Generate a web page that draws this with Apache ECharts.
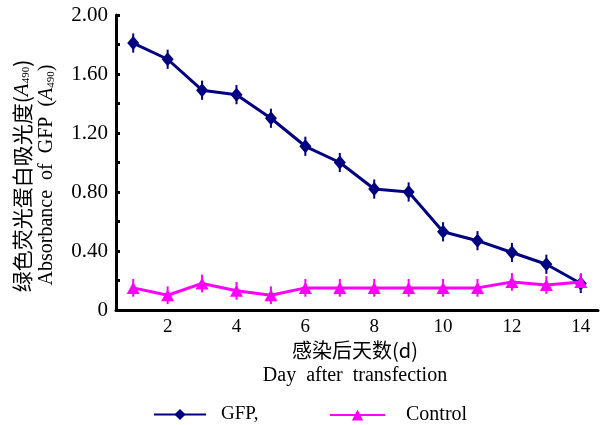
<!DOCTYPE html>
<html>
<head>
<meta charset="utf-8">
<script src="https://cdn.jsdelivr.net/npm/echarts@6/dist/echarts.min.js"></script>
<style>html,body{margin:0;padding:0;background:#fff;}#c{width:608px;height:425px;}</style>
</head>
<body>
<div id="c"></div>
<script>
const days = ['1','2','3','4','5','6','7','8','9','10','11','12','13','14'];
const gfp = [1.81, 1.70, 1.49, 1.46, 1.30, 1.11, 1.00, 0.82, 0.80, 0.53, 0.47, 0.39, 0.31, 0.18];
const gfpErr = [0.065, 0.065, 0.065, 0.065, 0.065, 0.065, 0.065, 0.065, 0.065, 0.065, 0.065, 0.065, 0.065, 0.065];
const control = [0.15, 0.10, 0.18, 0.13, 0.10, 0.15, 0.15, 0.15, 0.15, 0.15, 0.15, 0.19, 0.17, 0.19];
const controlErr = [0.06, 0.06, 0.06, 0.06, 0.06, 0.06, 0.06, 0.06, 0.06, 0.06, 0.06, 0.06, 0.06, 0.06];
const yTickLabels = ['0', '0.40', '0.80', '1.20', '1.60', '2.00'];

const NAVY = '#000080', MAG = '#ff00ff';
const serif = '"Liberation Serif", "DejaVu Serif", serif';
const cjk = '"Noto Sans CJK SC", sans-serif';

function errData(vals, errs) {
  return vals.map((v, i) => [i, v - errs[i], v + errs[i]]);
}
function errSeries(vals, errs, color) {
  return {
    type: 'custom',
    silent: true,
    z: 1,
    data: errData(vals, errs),
    renderItem: function (params, api) {
      const lo = api.coord([api.value(0), api.value(1)]);
      const hi = api.coord([api.value(0), api.value(2)]);
      return {
        type: 'line',
        shape: { x1: lo[0], y1: lo[1], x2: hi[0], y2: hi[1] },
        style: { stroke: color, lineWidth: 2 }
      };
    }
  };
}

const chart = echarts.init(document.getElementById('c'), null, { renderer: 'canvas' });
chart.setOption({
  animation: false,
  backgroundColor: '#fff',
  grid: { left: 116, right: 10, top: 15, bottom: 115, containLabel: false },
  legend: [
    {
      left: 148, top: 400, itemWidth: 52, itemHeight: 14,
      data: ['GFP,'],
      textStyle: { fontFamily: serif, fontSize: 19, color: '#000', padding: [0, 0, 0, 10] }
    },
    {
      left: 324, top: 400, itemWidth: 55, itemHeight: 14,
      data: ['Control'],
      textStyle: { fontFamily: serif, fontSize: 20, color: '#000', padding: [0, 0, 0, 16] }
    }
  ],
  xAxis: {
    type: 'category',
    data: days,
    boundaryGap: true,
    axisLine: { lineStyle: { color: '#000', width: 3 } },
    axisTick: { inside: true, length: 5, lineStyle: { color: '#000', width: 2 } },
    axisLabel: {
      interval: function (i) { return i % 2 === 1; },
      fontFamily: serif, fontSize: 19, color: '#000', margin: 8
    },
    splitLine: { show: false }
  },
  yAxis: {
    type: 'value',
    min: 0, max: 2.0, interval: 0.2,
    axisLine: { show: true, lineStyle: { color: '#000', width: 3 } },
    axisTick: { show: true, inside: true, length: 4, lineStyle: { color: '#000', width: 3 } },
    axisLabel: {
      fontFamily: serif, fontSize: 21, color: '#000', margin: 8,
      formatter: function (v) {
        const k = Math.round(v / 0.4 * 1000) / 1000;
        if (Math.abs(k - Math.round(k)) > 1e-6) return '';
        return yTickLabels[Math.round(k)] || '';
      }
    },
    splitLine: { show: false }
  },
  series: [
    errSeries(gfp, gfpErr, NAVY),
    errSeries(control, controlErr, MAG),
    {
      name: 'GFP,', type: 'line', data: gfp, z: 3,
      symbol: 'diamond', symbolSize: [12, 14],
      lineStyle: { color: NAVY, width: 3 },
      itemStyle: { color: NAVY }
    },
    {
      name: 'Control', type: 'line', data: control, z: 4,
      symbol: 'triangle', symbolSize: [13, 12],
      lineStyle: { color: MAG, width: 3 },
      itemStyle: { color: MAG }
    }
  ],
  graphic: [
    {
      type: 'text', x: 22, y: 176, rotation: Math.PI / 2,
      style: {
        text: '绿色荧光蛋白吸光度({i|A}{s|490})',
        rich: {
          i: { fontFamily: serif, fontStyle: 'italic', fontSize: 21, fill: '#000' },
          s: { fontFamily: serif, fontSize: 11, fill: '#000', padding: [9, 0, 0, 0] }
        },
        font: '21px ' + cjk, fill: '#000', align: 'center', verticalAlign: 'middle'
      }
    },
    {
      type: 'text', x: 47, y: 175, rotation: Math.PI / 2,
      style: {
        text: 'Absorbance  of  GFP  ({i|A}{s|490})',
        rich: {
          i: { fontFamily: serif, fontStyle: 'italic', fontSize: 20, fill: '#000' },
          s: { fontFamily: serif, fontSize: 11, fill: '#000', padding: [9, 0, 0, 0] }
        },
        font: '20px ' + serif, fill: '#000', align: 'center', verticalAlign: 'middle'
      }
    },
    {
      type: 'text', x: 355, y: 350,
      style: { text: '感染后天数(d)', font: '20px ' + cjk, fill: '#000', align: 'center', verticalAlign: 'middle' }
    },
    {
      type: 'text', x: 355, y: 376,
      style: { text: 'Day  after  transfection', font: '20px ' + serif, fill: '#000', align: 'center', verticalAlign: 'middle' }
    }
  ]
});
</script>
</body>
</html>
